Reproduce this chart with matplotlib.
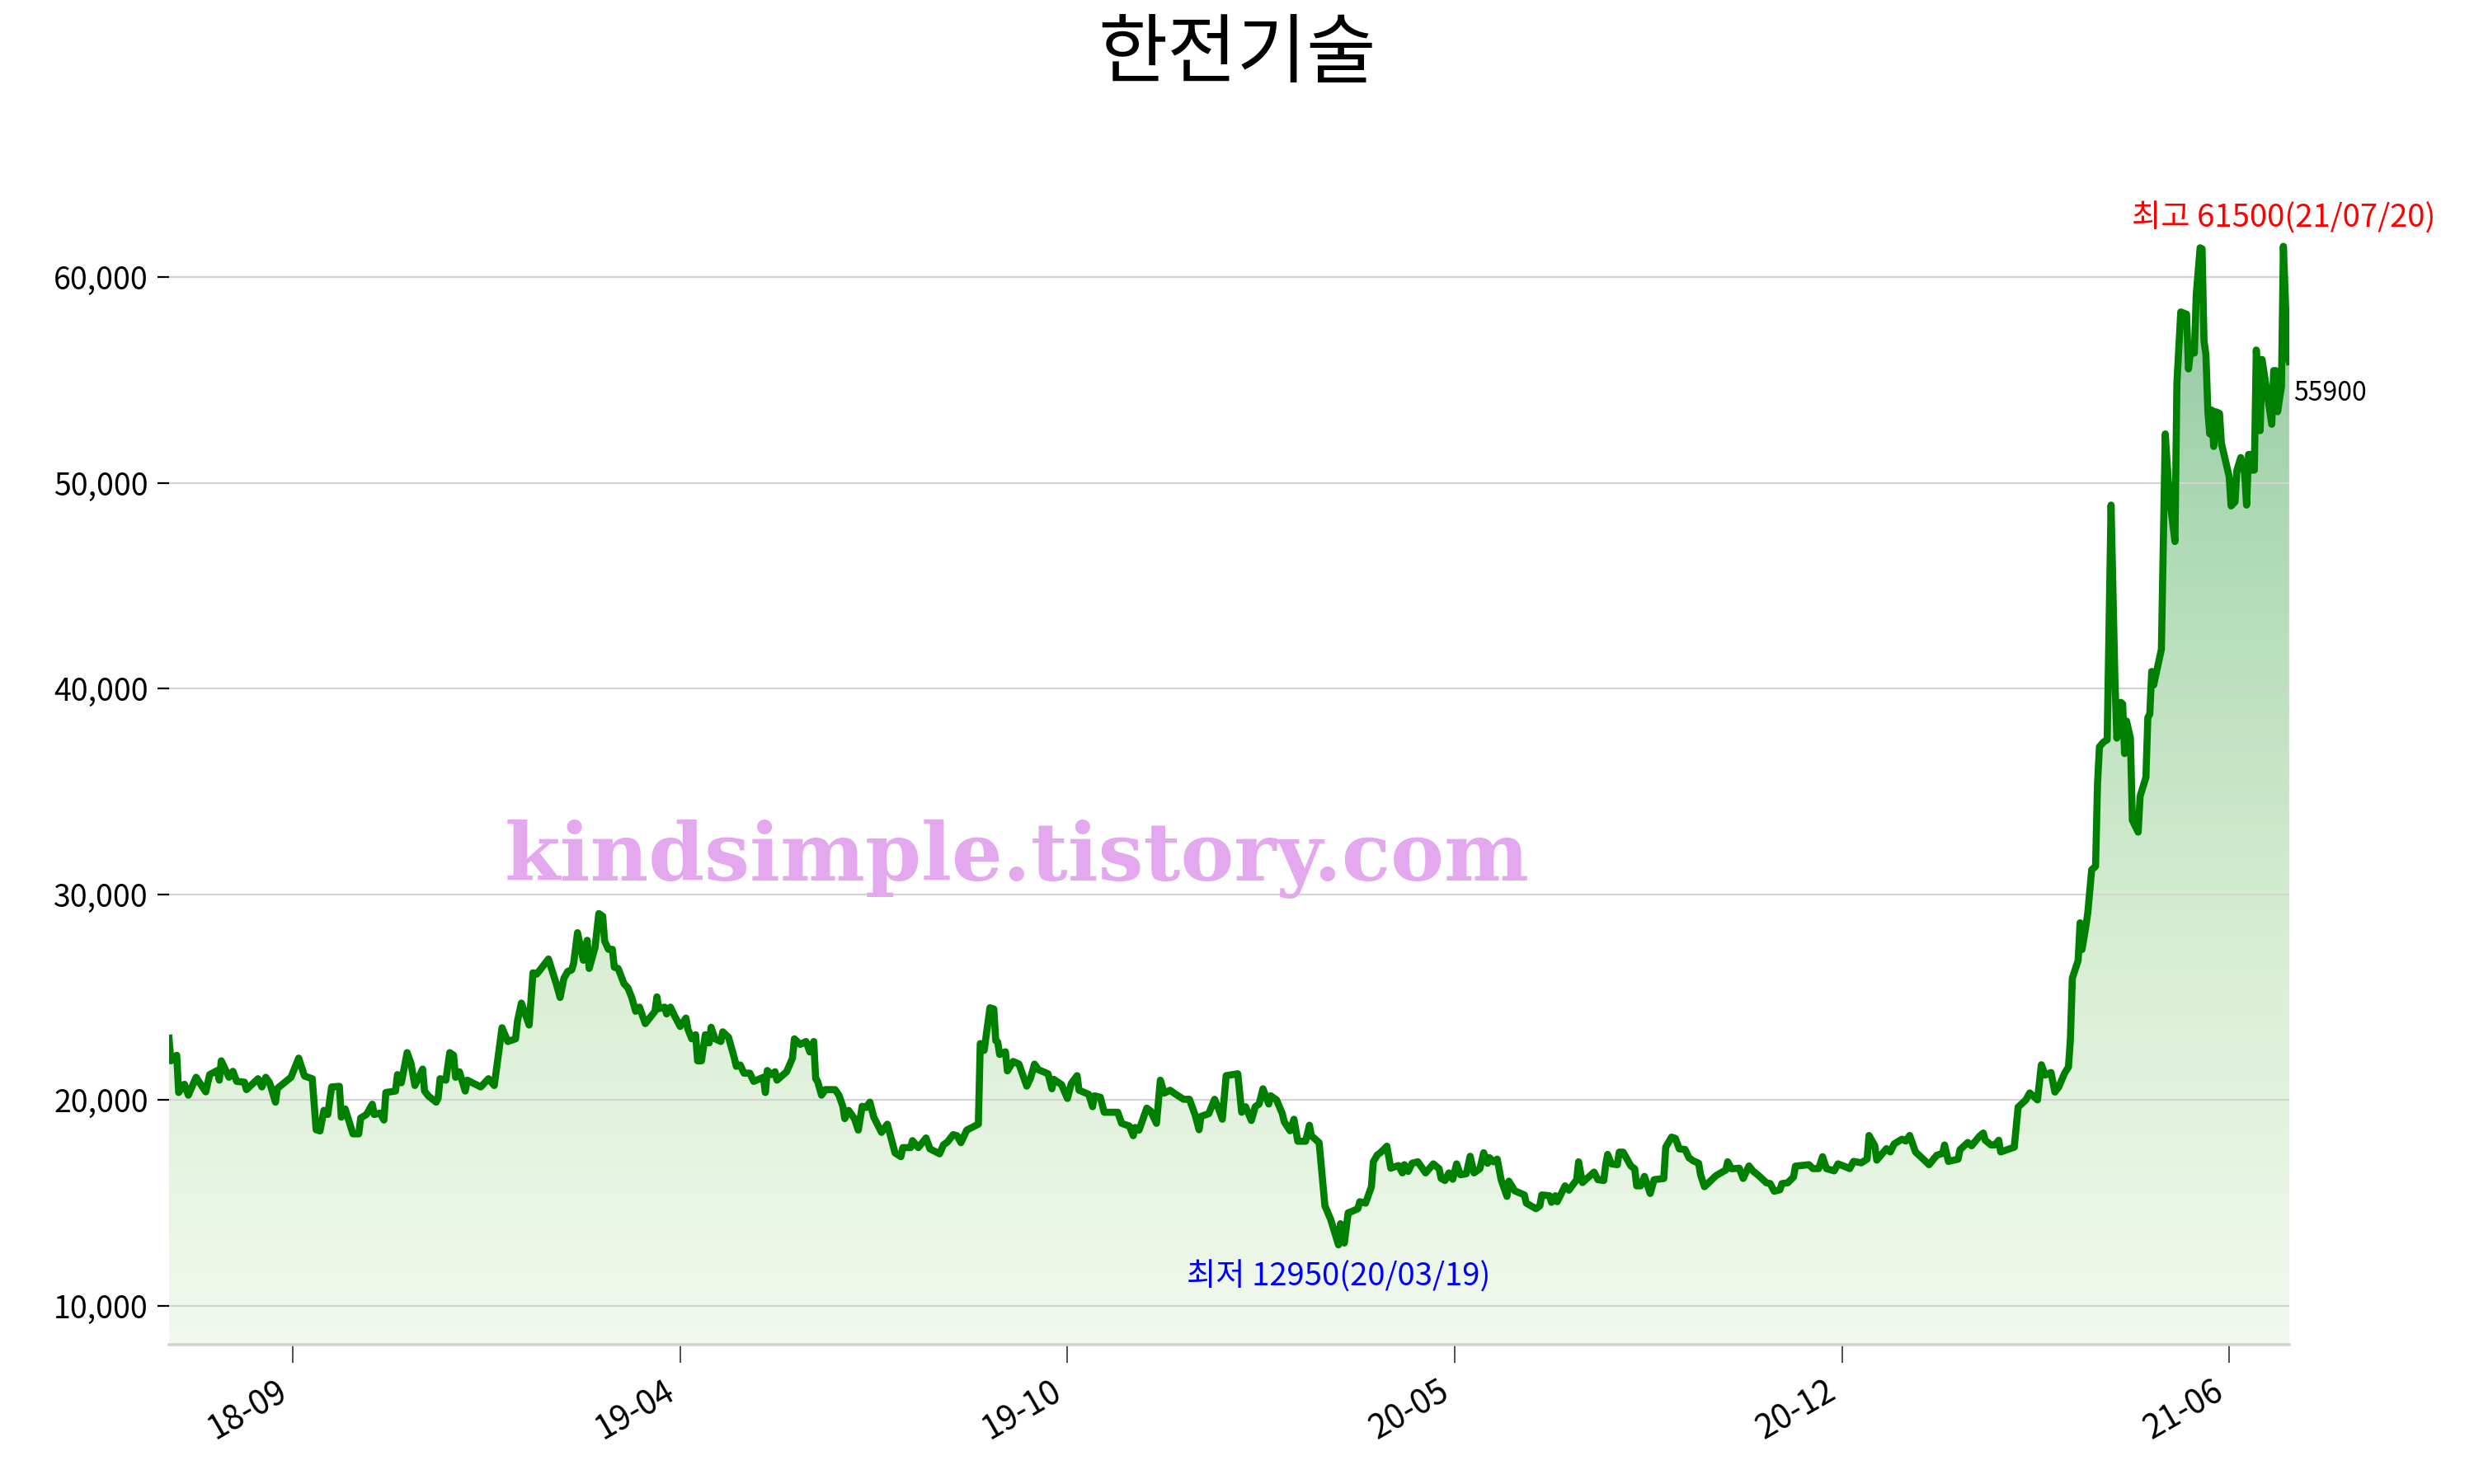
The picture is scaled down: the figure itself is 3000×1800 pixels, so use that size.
import pandas as pd
import numpy as np
import matplotlib
matplotlib.use('Agg')
import matplotlib.pyplot as plt
import matplotlib.dates as mdates
from matplotlib.colors import LinearSegmentedColormap
from matplotlib.ticker import MultipleLocator, FuncFormatter

plt.rcParams['font.family'] = ['Noto Sans CJK KR', 'DejaVu Sans']

# 한전기술 daily close
start_date = '2018-07-24'
day_offsets = [
    0, 1, 4, 5, 8, 10, 14, 19, 21, 25, 26, 27, 31, 33, 35, 39, 40, 46, 48, 50,
    52, 55, 56, 63, 67, 70, 74, 76, 78, 80, 82, 84, 88, 89, 91, 95, 98, 99, 102, 105,
    106, 109, 111, 112, 117, 118, 120, 123, 125, 127, 131, 132, 134, 138, 139, 140, 143, 145, 147, 148,
    150, 153, 154, 161, 165, 168, 172, 175, 179, 180, 182, 186, 188, 190, 196, 200, 202, 204, 206, 208,
    209, 211, 214, 216, 217, 220, 222, 224, 225, 227, 229, 230, 232, 235, 237, 239, 241, 243, 246, 251,
    252, 253, 256, 257, 259, 261, 264, 267, 268, 270, 272, 273, 275, 277, 279, 280, 282, 285, 286, 289,
    292, 293, 295, 297, 300, 302, 307, 308, 309, 311, 313, 314, 319, 322, 323, 326, 329, 331, 333, 334,
    335, 337, 339, 344, 346, 348, 349, 351, 354, 356, 358, 360, 362, 364, 368, 371, 375, 378, 379, 383,
    384, 387, 391, 393, 398, 400, 402, 405, 407, 409, 412, 418, 419, 421, 424, 426, 427, 428, 429, 432,
    433, 436, 439, 443, 445, 447, 449, 454, 456, 457, 461, 464, 466, 469, 470, 475, 477, 478, 481, 483,
    490, 492, 496, 498, 499, 501, 505, 507, 510, 512, 514, 517, 520, 524, 527, 530, 532, 533, 537, 540,
    542, 544, 546, 552, 554, 556, 559, 561, 563, 565, 568, 569, 572, 575, 576, 579, 581, 583, 587, 589,
    590, 594, 597, 600, 604, 605, 607, 609, 611, 614, 615, 618, 621, 622, 624, 626, 629, 631, 635, 637,
    638, 640, 642, 645, 649, 653, 656, 657, 659, 661, 663, 665, 667, 670, 672, 674, 677, 679, 681, 682,
    684, 686, 688, 691, 692, 695, 700, 701, 706, 708, 709, 713, 714, 716, 717, 721, 723, 727, 728, 730,
    736, 738, 741, 742, 743, 745, 748, 749, 751, 755, 757, 758, 760, 762, 765, 767, 772, 773, 776, 778,
    780, 783, 785, 787, 790, 791, 793, 796, 799, 804, 805, 807, 811, 813, 816, 818, 821, 825, 827, 829,
    832, 833, 836, 839, 840, 847, 849, 852, 854, 856, 860, 862, 865, 868, 870, 874, 877, 878, 881, 882,
    887, 889, 891, 895, 897, 899, 902, 906, 909, 913, 916, 917, 919, 924, 925, 929, 931, 935, 937, 938,
    941, 943, 945, 946, 953, 955, 959, 961, 965, 967, 969, 972, 974, 976, 979, 981, 982, 983, 986, 987,
    988, 990, 991, 993, 995, 996, 997, 999, 1001, 1002, 1003, 1005, 1006, 1008, 1009, 1010, 1011, 1013, 1014, 1017,
    1018, 1021, 1022, 1023, 1024, 1025, 1029, 1031, 1033, 1036, 1037, 1039, 1042, 1043, 1044, 1046, 1047, 1049, 1050, 1051,
    1052, 1053, 1054, 1055, 1056, 1057, 1059, 1060, 1064, 1065, 1067, 1068, 1070, 1072, 1073, 1074, 1075, 1076, 1077, 1078,
    1079, 1080, 1081, 1086, 1087, 1088, 1089, 1091, 1092, 1093, 1094, 1095,
]
prices = [
    23000, 21900, 22170, 20360, 20760, 20230, 21100, 20390, 21230, 21430, 20960, 21900, 21100, 21390, 20900, 20860, 20500, 21030, 20630, 21100,
    20830, 19890, 20560, 21100, 22030, 21160, 21030, 18550, 18490, 19490, 19290, 20630, 20660, 19160, 19560, 18350, 18350, 19120, 19290, 19790,
    19290, 19360, 19020, 20360, 20430, 21230, 20830, 22300, 21770, 20700, 21500, 20430, 20190, 19890, 20090, 21030, 20960, 22300, 22170, 21100,
    21370, 20430, 20960, 20630, 21030, 20700, 23510, 22840, 22970, 23840, 24710, 23640, 26180, 26120, 26850, 25650, 24980, 25920, 26250, 26320,
    26650, 28130, 26790, 27760, 26390, 27390, 29060, 28930, 27720, 27320, 27320, 26450, 26390, 25650, 25450, 24980, 24310, 24510, 23710, 24310,
    25010, 24440, 24510, 24180, 24510, 24110, 23570, 23980, 23440, 22970, 23170, 21900, 21900, 23170, 22770, 23530, 22970, 22840, 23310, 23040,
    22030, 21630, 21700, 21300, 21300, 20900, 21100, 20360, 21430, 21230, 21370, 20960, 21370, 22030, 22970, 22700, 22840, 22330, 22840, 21030,
    20900, 20230, 20500, 20500, 20230, 19690, 19090, 19490, 19090, 18530, 19690, 19630, 19890, 19160, 18420, 18820, 17420, 17240, 17680, 17680,
    18020, 17680, 18150, 17620, 17380, 17820, 17950, 18310, 18260, 17920, 18530, 18820, 22740, 22410, 24480, 24420, 22880, 22810, 22210, 22340,
    21410, 21870, 21740, 20670, 21070, 21740, 21470, 21270, 20540, 21000, 20740, 20070, 20800, 21180, 20470, 20270, 19670, 20200, 20130, 19400,
    19400, 18860, 18730, 18260, 18660, 18530, 19600, 19460, 18860, 20960, 20330, 20470, 20270, 20030, 20030, 19260, 18550, 19200, 19330, 20030,
    19600, 19060, 21180, 21270, 19400, 19670, 19000, 19670, 19800, 20540, 19800, 20200, 20000, 19330, 18930, 18500, 19060, 17990, 17990, 18770,
    18260, 17920, 14850, 14180, 12950, 13980, 13040, 14510, 14580, 14710, 15050, 14980, 15780, 16990, 17320, 17460, 17750, 16680, 16810, 16450,
    16850, 16520, 16920, 16990, 16450, 16890, 16650, 16180, 16080, 16450, 16140, 16890, 16360, 16410, 17260, 16450, 16650, 17430, 16920, 17190,
    16990, 17120, 16120, 15310, 16050, 15580, 15380, 14980, 14710, 14850, 15380, 15340, 15020, 15340, 15050, 15820, 15610, 16120, 16990, 15980,
    16490, 16120, 16080, 16850, 17350, 16890, 16850, 17460, 17460, 16790, 16650, 15820, 15820, 16280, 15450, 16120, 16180, 17700, 18190, 18130,
    17620, 17590, 17190, 17050, 16920, 16360, 15780, 16050, 16320, 16590, 16990, 16650, 16680, 16180, 16790, 16550, 16320, 15970, 15930, 15560,
    15630, 15930, 15970, 16250, 16780, 16850, 16660, 16660, 17240, 16660, 16550, 16890, 16780, 16660, 17010, 16940, 17120, 18270, 17770, 17070,
    17630, 17470, 17860, 18090, 18000, 18270, 17470, 17120, 16850, 17310, 17400, 17810, 17010, 17120, 17580, 17930, 17770, 18230, 18390, 18040,
    17810, 17810, 18040, 17470, 17700, 19650, 20000, 20340, 20000, 21710, 21210, 21330, 20380, 20630, 21300, 21600, 22960, 25920, 26780, 28610,
    27310, 28450, 29110, 31190, 31360, 35350, 37170, 37390, 37510, 43300, 48920, 40420, 37590, 39330, 39250, 36840, 38420, 37590, 33600, 33020,
    34760, 35680, 38590, 38750, 40830, 40170, 41910, 52380, 49460, 47150, 54850, 58310, 58200, 55540, 56380, 56310, 59150, 61430, 61380, 56920,
    56230, 53460, 52380, 53540, 51770, 53460, 53380, 51920, 50310, 48880, 49080, 50620, 51230, 50460, 48920, 51380, 51380, 50620, 50620, 56460,
    54690, 52540, 56000, 52850, 55460, 55460, 53460, 54690, 61500, 59000, 56300, 55900,
]

title = '한전기술'
watermark = 'kindsimple.tistory.com'

dates = pd.Timestamp(start_date) + pd.to_timedelta(day_offsets, unit='D')
prices = np.array(prices)

i_max = int(np.argmax(prices))
i_min = int(np.argmin(prices))
y_low = 8100
y_high = 65000

fig = plt.figure(figsize=(15, 9), dpi=200)
ax = fig.add_axes([0.0683, 0.0939, 0.857, 0.7886])

# gradient fill under the line
poly = ax.fill_between(dates, prices, y_low, facecolor='none', edgecolor='none')
cmap = LinearSegmentedColormap.from_list(
    'fill', [(0, '#f2f9ef'), (0.35, '#d8eed3'), (0.7, '#b2dcb7'), (1, '#92c6a2')])
grad = np.linspace(0, 1, 256).reshape(-1, 1)
x0 = mdates.date2num(dates[0])
x1 = mdates.date2num(dates[-1])
im = ax.imshow(grad, cmap=cmap, aspect='auto', origin='lower',
               extent=[x0, x1, y_low, 62000], zorder=0.5)
im.set_clip_path(poly.get_paths()[0], transform=ax.transData)

ax.plot(dates, prices, color='#008000', linewidth=3.1, zorder=3)

ax.set_xlim(dates[0], dates[-1])
ax.set_ylim(y_low, y_high)

# x ticks every 200 days
tick_dates = [pd.Timestamp(start_date) + pd.Timedelta(days=d) for d in range(64, 1096, 200)]
ax.set_xticks(tick_dates)
ax.xaxis.set_major_formatter(mdates.DateFormatter('%y-%m'))
ax.yaxis.set_major_locator(MultipleLocator(10000))
ax.yaxis.set_major_formatter(FuncFormatter(lambda v, p: f'{int(v):,}'))

for lab in ax.get_xticklabels():
    lab.set_rotation(30)
    lab.set_ha('right')
ax.tick_params(axis='x', labelsize=14.5, length=8, width=0.6, color='#333333', pad=5)
ax.tick_params(axis='y', labelsize=13.5, length=5, width=0.8, pad=4)

ax.grid(axis='y', color='#d3d3d3', linewidth=0.8)
for s in ['left', 'top', 'right']:
    ax.spines[s].set_visible(False)
ax.spines['bottom'].set_color('#d3d3d3')
ax.spines['bottom'].set_linewidth(1.3)

# annotations
ax.annotate(f'최고 {prices[i_max]}({dates[i_max]:%y/%m/%d})', xy=(dates[i_max], prices[i_max]),
            xytext=(0, 12), textcoords='offset points', ha='center', va='center',
            color='red', fontsize=13.8)
ax.annotate(f'최저 {prices[i_min]}({dates[i_min]:%y/%m/%d})', xy=(dates[i_min], prices[i_min]),
            xytext=(0, -14), textcoords='offset points', ha='center', va='center',
            color='blue', fontsize=13.8)
ax.annotate(f'{prices[-1]}', xy=(dates[-1], prices[-1]),
            xytext=(2, -14), textcoords='offset points', ha='left', va='center',
            color='black', fontsize=11.5, annotation_clip=False)

ax.text(0.4, 0.415, watermark, transform=ax.transAxes, ha='center', va='center',
        fontsize=35, color='#e4a8ee', family='DejaVu Serif', fontweight='heavy', zorder=4)

fig.text(0.5, 0.963, title, ha='center', va='center', fontsize=33)

plt.savefig('out.png', dpi=200)
